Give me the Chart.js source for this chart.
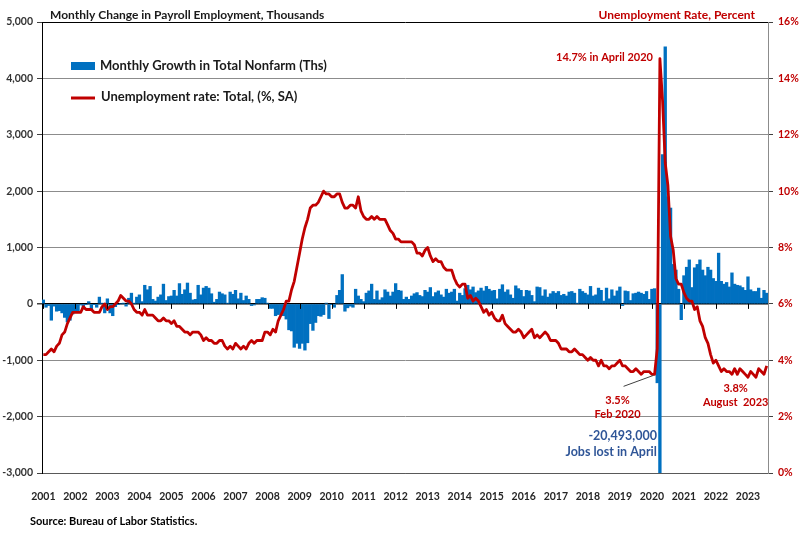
<!DOCTYPE html>
<html lang="en">
<head>
    <meta charset="UTF-8">
    <title>Monthly Change in Payroll Employment and Unemployment Rate</title>
    <script src="https://cdn.jsdelivr.net/npm/chart.js@4.4.1/dist/chart.umd.min.js"></script>
    <style>
        html, body { margin: 0; padding: 0; background: #fff; }
        #wrap { width: 804px; height: 538px; }
    </style>
</head>
<body>
    <div id="wrap"><canvas id="chart" width="804" height="538"></canvas></div>

    <script>
        // years on the axis, one label per January
        const years = ['2001','2002','2003','2004','2005','2006','2007','2008','2009','2010','2011','2012',
                       '2013','2014','2015','2016','2017','2018','2019','2020','2021','2022','2023'];
        const lastYearMonths = 8; // data runs to August 2023

        // monthly change in total nonfarm payrolls, thousands (Jan 2001 - Aug 2023)
        const payrollChange = [
            70, -60, -30, -290, -40, -130, -120, -160, -240, -320, -290, -180,   // 2001
            -130, -150, -20, -90, -10, 40, -100, -10, -60, 120, 10, -160,        // 2002
            90, -160, -210, -50, -10, 0, 10, -40, 100, 190, 10, 120,             // 2003
            160, 40, 330, 250, 310, 80, 50, 120, 160, 350, 60, 130,              // 2004
            140, 240, 140, 360, 170, 250, 370, 190, 70, 80, 330, 160,            // 2005
            280, 310, 280, 180, 30, 80, 210, 180, 160, 10, 210, 170,             // 2006
            240, 90, 190, 60, 140, 80, -30, -20, 80, 80, 110, 100,               // 2007
            10, -80, -80, -210, -190, -170, -210, -270, -460, -480, -770, -700,  // 2008
            -790, -700, -820, -690, -350, -470, -330, -210, -220, -190, 10, -260,// 2009
            -10, -60, 150, 240, 520, -130, -70, -40, -60, 260, 140, 80,          // 2010
            40, 190, 230, 350, 80, 230, 70, 110, 250, 210, 140, 210,             // 2011
            360, 240, 230, 80, 120, 80, 140, 180, 200, 150, 130, 240,            // 2012
            210, 290, 130, 200, 230, 160, 120, 260, 190, 210, 260, 50,           // 2013
            190, 150, 270, 330, 250, 300, 200, 230, 280, 230, 310, 260,          // 2014
            230, 240, 90, 260, 340, 210, 250, 160, 100, 320, 270, 240,           // 2015
            130, 240, 230, 150, 40, 300, 290, 140, 250, 120, 180, 220,           // 2016
            190, 220, 150, 170, 140, 210, 220, 190, 10, 260, 220, 190,           // 2017
            160, 310, 140, 160, 280, 240, 50, 280, 90, 250, 140, 230,            // 2018
            300, -30, 230, 220, 60, 180, 190, 210, 190, 170, 220, 80,            // 2019
            260, 270, -1400, -20493, 2650, 4560, 1900, 1700, 700, 600, 260, -280,// 2020
            500, 650, 780, 290, 640, 700, 780, 600, 500, 650, 600, 450,          // 2021
            400, 900, 400, 350, 380, 300, 550, 350, 330, 320, 290, 240,          // 2022
            480, 250, 220, 220, 280, 100, 240, 190                               // 2023
        ];

        // unemployment rate, percent, seasonally adjusted
        const unemploymentRate = [
            4.2, 4.2, 4.3, 4.4, 4.3, 4.5, 4.6, 4.9, 5.0, 5.3, 5.5, 5.7,   // 2001
            5.7, 5.7, 5.7, 5.9, 5.8, 5.8, 5.8, 5.7, 5.7, 5.7, 5.9, 6.0,   // 2002
            5.8, 5.9, 5.9, 6.0, 6.1, 6.3, 6.2, 6.1, 6.1, 6.0, 5.8, 5.7,   // 2003
            5.7, 5.6, 5.8, 5.6, 5.6, 5.6, 5.5, 5.4, 5.4, 5.5, 5.4, 5.4,   // 2004
            5.3, 5.4, 5.2, 5.2, 5.1, 5.0, 5.0, 4.9, 5.0, 5.0, 5.0, 4.9,   // 2005
            4.7, 4.8, 4.7, 4.7, 4.6, 4.6, 4.7, 4.7, 4.5, 4.4, 4.5, 4.4,   // 2006
            4.6, 4.5, 4.4, 4.5, 4.4, 4.6, 4.7, 4.6, 4.7, 4.7, 4.7, 5.0,   // 2007
            5.0, 4.9, 5.1, 5.0, 5.4, 5.6, 5.8, 6.1, 6.1, 6.5, 6.8, 7.3,   // 2008
            7.8, 8.3, 8.7, 9.0, 9.4, 9.5, 9.5, 9.6, 9.8, 10.0, 9.9, 9.9,  // 2009
            9.8, 9.8, 9.9, 9.9, 9.6, 9.4, 9.4, 9.5, 9.5, 9.4, 9.8, 9.3,   // 2010
            9.1, 9.0, 9.0, 9.1, 9.0, 9.1, 9.0, 9.0, 9.0, 8.8, 8.6, 8.5,   // 2011
            8.3, 8.3, 8.2, 8.2, 8.2, 8.2, 8.2, 8.1, 7.8, 7.8, 7.7, 7.9,   // 2012
            8.0, 7.7, 7.5, 7.6, 7.5, 7.5, 7.3, 7.2, 7.2, 7.2, 6.9, 6.7,   // 2013
            6.6, 6.7, 6.7, 6.2, 6.3, 6.1, 6.2, 6.1, 5.9, 5.7, 5.8, 5.6,   // 2014
            5.7, 5.5, 5.4, 5.4, 5.6, 5.3, 5.2, 5.1, 5.0, 5.0, 5.1, 5.0,   // 2015
            4.8, 4.9, 5.0, 5.1, 4.8, 4.9, 4.8, 4.9, 5.0, 4.9, 4.7, 4.7,   // 2016
            4.7, 4.6, 4.4, 4.4, 4.4, 4.3, 4.3, 4.4, 4.3, 4.2, 4.2, 4.1,   // 2017
            4.0, 4.1, 4.0, 4.0, 3.8, 4.0, 3.8, 3.8, 3.7, 3.8, 3.8, 3.9,   // 2018
            4.0, 3.8, 3.8, 3.7, 3.6, 3.6, 3.7, 3.6, 3.5, 3.6, 3.6, 3.6,   // 2019
            3.5, 3.5, 4.4, 14.7, 13.2, 11.0, 10.2, 8.4, 7.9, 6.9, 6.7, 6.7, // 2020
            6.4, 6.2, 6.1, 6.1, 5.8, 5.9, 5.4, 5.2, 4.8, 4.6, 4.2, 3.9,   // 2021
            4.0, 3.8, 3.6, 3.7, 3.6, 3.6, 3.5, 3.7, 3.5, 3.7, 3.6, 3.5,   // 2022
            3.4, 3.6, 3.5, 3.4, 3.7, 3.6, 3.5, 3.8                        // 2023
        ];

        const blue = '#0070C0';
        const red = '#C00000';
        const font = 'Lato, "Open Sans", sans-serif';

        // month labels like 2001-01
        const months = [];
        years.forEach((yr, i) => {
            const n = i === years.length - 1 ? lastYearMonths : 12;
            for (let m = 1; m <= n; m++) months.push(yr + '-' + String(m).padStart(2, '0'));
        });
        const idx = label => months.indexOf(label);

        // titles, legend, notes and source drawn on top of the chart
        const extras = {
            id: 'extras',
            afterDraw(chart) {
                const ctx = chart.ctx;
                const { x, y, y1 } = chart.scales;
                ctx.save();

                // year tick marks on the zero line
                const y0 = y.getPixelForValue(0);
                ctx.strokeStyle = '#000';
                ctx.lineWidth = 1;
                months.forEach((m, i) => {
                    if (i % 12 !== 0) return;
                    const px = Math.round(x.getPixelForValue(i)) + 0.5;
                    ctx.beginPath(); ctx.moveTo(px, y0); ctx.lineTo(px, y0 + 5); ctx.stroke();
                });

                // axis titles
                ctx.textBaseline = 'middle';
                ctx.font = 'bold 12px ' + font;
                ctx.fillStyle = '#1a1a1a';
                ctx.textAlign = 'left';
                ctx.fillText('Monthly Change in Payroll Employment, Thousands', 50, 15);
                ctx.fillStyle = red;
                ctx.textAlign = 'right';
                ctx.fillText('Unemployment Rate, Percent', 755, 15);

                // legend
                ctx.font = 'bold 13px ' + font;
                ctx.textAlign = 'left';
                ctx.fillStyle = blue;
                ctx.fillRect(71, 62, 24, 8);
                ctx.fillStyle = '#1a1a1a';
                ctx.fillText(chart.data.datasets[1].label, 100, 66);
                ctx.strokeStyle = red;
                ctx.lineWidth = 3;
                ctx.beginPath(); ctx.moveTo(71, 98); ctx.lineTo(95, 98); ctx.stroke();
                ctx.fillText(chart.data.datasets[0].label, 101, 97);

                // notes
                const iApr = idx('2020-04'), iFeb = idx('2020-02'), iAug = idx('2023-08');
                const xApr = x.getPixelForValue(iApr);
                const xFeb = x.getPixelForValue(iFeb);
                const xAug = x.getPixelForValue(iAug);
                ctx.font = 'bold 11px ' + font;
                ctx.fillStyle = red;
                ctx.textAlign = 'right';
                ctx.fillText('14.7% in April 2020', xApr - 7, y1.getPixelForValue(unemploymentRate[iApr]) - 1);

                const yFeb = y1.getPixelForValue(unemploymentRate[iFeb]);
                ctx.strokeStyle = '#404040';
                ctx.lineWidth = 1;
                ctx.beginPath(); ctx.moveTo(xFeb - 31, yFeb + 12); ctx.lineTo(xFeb - 1, yFeb + 1); ctx.stroke();
                ctx.textAlign = 'center';
                ctx.fillText('3.5%', xFeb - 37, yFeb + 26);
                ctx.fillText('Feb 2020', xFeb - 37, yFeb + 40);

                const yAug = y1.getPixelForValue(unemploymentRate[iAug]);
                ctx.fillText('3.8%', xAug - 31, yAug + 23);
                ctx.fillText('August  2023', xAug - 31, yAug + 37);

                ctx.font = 'bold 12.5px ' + font;
                ctx.fillStyle = '#2F5597';
                ctx.textAlign = 'right';
                ctx.fillText('-20,493,000', xApr - 3, 436);
                ctx.fillText('Jobs lost in April', xApr - 3, 452);

                // source
                ctx.font = 'bold 11px ' + font;
                ctx.fillStyle = '#000';
                ctx.textAlign = 'left';
                ctx.fillText('Source: Bureau of Labor Statistics.', 30, 521);
                ctx.restore();
            }
        };

        const ctx = document.getElementById('chart').getContext('2d');
        const chart = new Chart(ctx, {
            type: 'bar',
            data: {
                labels: months,
                datasets: [
                    {
                        type: 'line',
                        label: 'Unemployment rate: Total, (%, SA)',
                        data: unemploymentRate,
                        yAxisID: 'y1',
                        borderColor: red,
                        borderWidth: 2.8,
                        pointRadius: 0,
                        tension: 0,
                        borderJoinStyle: 'round',
                        order: 0
                    },
                    {
                        label: 'Monthly Growth in Total Nonfarm (Ths)',
                        data: payrollChange,
                        yAxisID: 'y',
                        backgroundColor: blue,
                        borderWidth: 0,
                        barPercentage: 1,
                        categoryPercentage: 1,
                        order: 1
                    }
                ]
            },
            options: {
                responsive: false,
                animation: false,
                layout: { padding: { top: 22, left: 0, right: 0, bottom: 0 } },
                plugins: { legend: { display: false }, tooltip: { enabled: false } },
                scales: {
                    x: {
                        grid: { display: false },
                        border: { display: true, color: '#595959' },
                        ticks: {
                            autoSkip: false,
                            maxRotation: 0,
                            padding: 9,
                            color: '#262626',
                            font: { family: font, size: 10.5, weight: 'bold' },
                            callback: (v, i) => (i % 12 === 0 ? months[i].slice(0, 4) : null)
                        },
                        afterFit: s => { s.height = 65; }
                    },
                    y: {
                        position: 'left',
                        min: -3000,
                        max: 5000,
                        grid: {
                            color: c => (c.tick.value === 0 || c.tick.value === 5000 ? '#000' : (c.tick.value === -3000 ? '#595959' : '#8c8c8c')),
                            lineWidth: c => (c.tick.value === 0 ? 1.5 : 1),
                            tickColor: '#404040',
                            tickLength: 5
                        },
                        border: { color: '#000' },
                        ticks: {
                            stepSize: 1000,
                            padding: 4,
                            color: '#333',
                            font: { family: font, size: 10.5, weight: 'bold' },
                            callback: v => v.toLocaleString('en-US')
                        },
                        afterFit: s => { s.width = 42; }
                    },
                    y1: {
                        position: 'right',
                        min: 0,
                        max: 16,
                        grid: { drawOnChartArea: false, tickColor: '#404040', tickLength: 5 },
                        border: { color: '#8c8c8c' },
                        ticks: {
                            stepSize: 2,
                            padding: 5,
                            color: red,
                            font: { family: font, size: 10.5, weight: 'bold' },
                            callback: v => v + '%'
                        },
                        afterFit: s => { s.width = 36; }
                    }
                }
            },
            plugins: [extras]
        });
    </script>
</body>
</html>
